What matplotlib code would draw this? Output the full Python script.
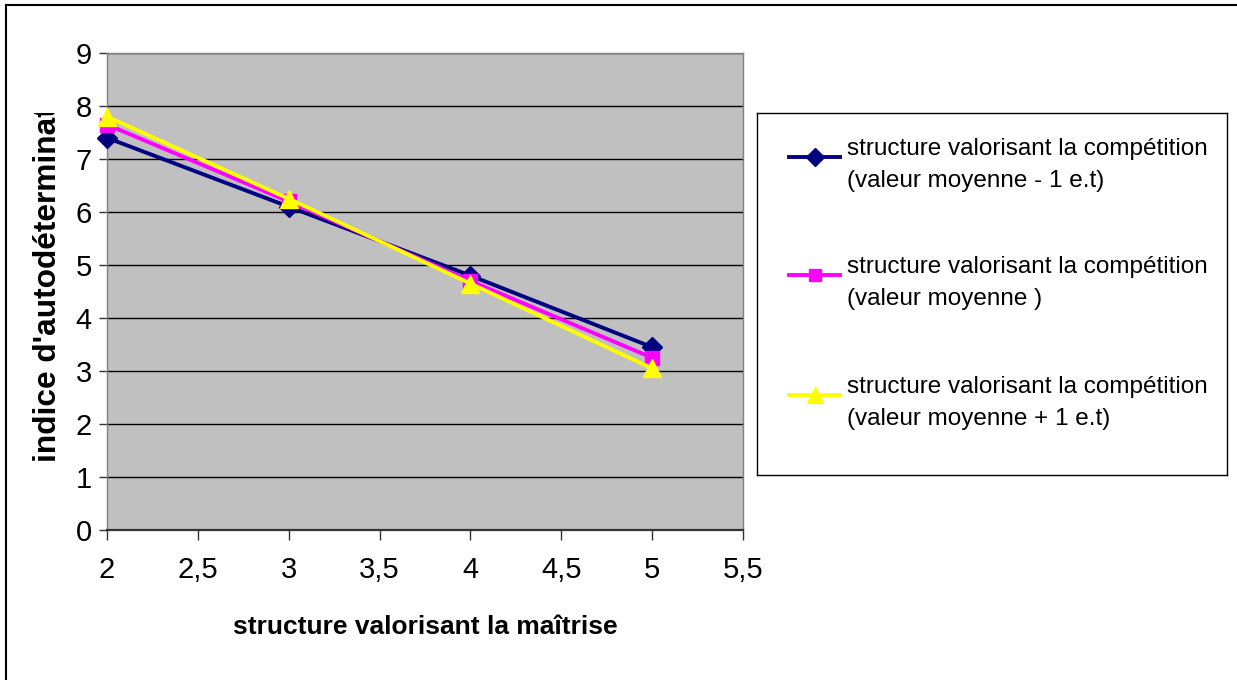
'''indice d'autodetermination selon la structure valorisant la maitrise'''
import matplotlib
matplotlib.use('Agg')
import matplotlib.pyplot as plt
from matplotlib.lines import Line2D
from matplotlib.transforms import Bbox, TransformedBbox

# data
maitrise = [2, 3, 4, 5]
moins_1et = [7.4, 6.1, 4.8, 3.45]
moyenne = [7.65, 6.2, 4.7, 3.25]
plus_1et = [7.8, 6.25, 4.65, 3.05]

xticks = [2, 2.5, 3, 3.5, 4, 4.5, 5, 5.5]
xtick_labels = ['2', '2,5', '3', '3,5', '4', '4,5', '5', '5,5']
yticks = [0, 1, 2, 3, 4, 5, 6, 7, 8, 9]

labels = ['structure valorisant la compétition\n(valeur moyenne - 1 e.t)',
          'structure valorisant la compétition\n(valeur moyenne )',
          'structure valorisant la compétition\n(valeur moyenne + 1 e.t)']

font = ['Liberation Sans', 'DejaVu Sans']

W, H = 1237, 680
fig = plt.figure(figsize=(W / 100, H / 100), dpi=100)
fig.patch.set_facecolor('white')

# plot area
ax = fig.add_axes([107 / W, 1 - 530 / H, 636 / W, 477 / H])
ax.set_facecolor('#C0C0C0')

series = [
    (moins_1et, '#000080', 'D', 10.5),
    (moyenne, '#FF00FF', 's', 10.5),
    (plus_1et, '#FFFF00', '^', 13),
]
for i, (vals, col, mk, ms) in enumerate(series):
    ax.plot(maitrise, vals, color=col, lw=2.8, marker=mk, markersize=ms,
            markerfacecolor=col, markeredgecolor=col, zorder=3 + i, clip_on=False)

ax.set_xlim(2, 5.5)
ax.set_ylim(0, 9)
ax.set_xticks(xticks)
ax.set_xticklabels(xtick_labels, fontfamily=font, fontsize=21)
ax.set_yticks(yticks)
ax.set_yticklabels([str(v) for v in yticks], fontfamily=font, fontsize=21)
ax.tick_params(axis='x', direction='out', length=7, width=1, color='#333333', pad=12)
ax.tick_params(axis='y', direction='out', length=6, width=1, color='#333333', pad=5)

ax.yaxis.grid(True, color='black', lw=1)
ax.set_axisbelow(True)
for side in ['top', 'right', 'left']:
    ax.spines[side].set_color('#808080')
    ax.spines[side].set_linewidth(1)
ax.spines['bottom'].set_color('#333333')
ax.spines['bottom'].set_linewidth(1.6)

ax.set_xlabel('structure valorisant la maîtrise', fontfamily=font,
              fontweight='bold', fontsize=19, va='center')
ax.xaxis.set_label_coords(0.5, -(627 - 530) / 477)

# y title, cut off at the top like in the original
ylab = fig.text(48 / W, 1 - 462 / H, "indice d'autodétermination", rotation=90,
                ha='center', va='bottom', fontfamily=font, fontweight='bold',
                fontsize=22.8)
ylab.set_clip_box(TransformedBbox(Bbox([[0, 0], [1, 1 - 113 / H]]), fig.transFigure))
ylab.set_clip_on(True)

# legend box
lax = fig.add_axes([757 / W, 1 - 475 / H, 470 / W, 362 / H])
lax.set_xlim(0, 470)
lax.set_ylim(362, 0)
lax.set_xticks([])
lax.set_yticks([])
for s in lax.spines.values():
    s.set_color('black')
    s.set_linewidth(1)
for (vals, col, mk, ms), lab, yy in zip(series, labels, [44, 162, 282]):
    lax.plot([32, 83], [yy, yy], color=col, lw=2.8)
    lax.plot([57.5], [yy], color=col, marker=mk, markersize=ms - 1.5, ls='none')
    lax.text(90, yy, lab, fontfamily=font, fontsize=17.5, va='center_baseline',
             ha='left', linespacing=1.6)

# outer frame of the chart
fig.add_artist(Line2D([6 / W, 1], [1 - 5 / H, 1 - 5 / H], color='black', lw=1.5))
fig.add_artist(Line2D([6 / W, 6 / W], [0, 1 - 5 / H], color='black', lw=1.5))

plt.savefig('out.png', dpi=100)
